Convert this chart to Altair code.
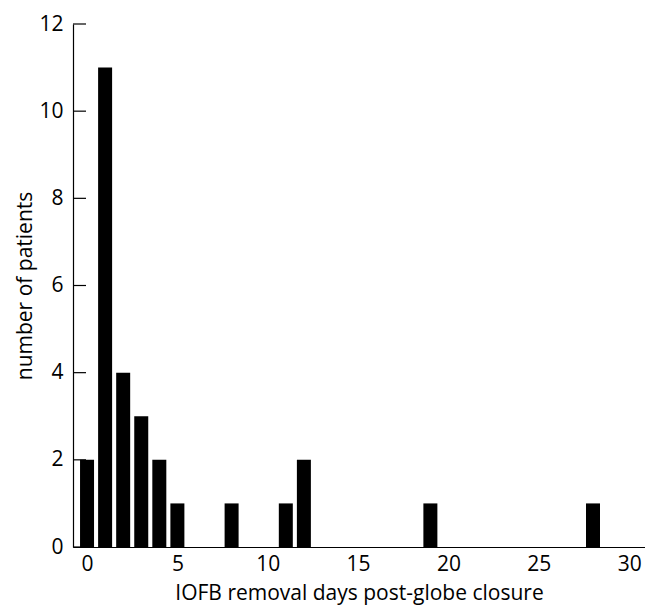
import altair as alt
import pandas as pd

days = [0, 1, 2, 3, 4, 5, 8, 11, 12, 19, 28]
patients = [2, 11, 4, 3, 2, 1, 1, 1, 2, 1, 1]
y_ticks = [0, 2, 4, 6, 8, 10, 12]
x_ticks = [0, 5, 10, 15, 20, 25, 30]

df = pd.DataFrame({"day": days, "n": patients})
ticks_df = pd.DataFrame({"t": y_ticks})

FONT = "Open Sans"

xscale = alt.Scale(domain=[-0.5, 30.6], nice=False, zero=False)
yscale = alt.Scale(domain=[0, 12], nice=False)

bars = alt.Chart(df).mark_bar(size=14, color="black").encode(
    x=alt.X("day:Q", scale=xscale,
            axis=alt.Axis(values=x_ticks, title="IOFB removal days post-globe closure",
                          ticks=False, grid=False, domainColor="black", domainWidth=1.2,
                          labelFontSize=21, labelPadding=6, labelColor="black",
                          titleFontSize=21, titleFontWeight="normal", titlePadding=8,
                          titleColor="black", labelFont=FONT, titleFont=FONT)),
    y=alt.Y("n:Q", scale=yscale,
            axis=alt.Axis(values=y_ticks, title="number of patients",
                          ticks=False, grid=False, domainColor="black", domainWidth=1.2,
                          labelFontSize=21, labelPadding=10, labelColor="black",
                          titleFontSize=21, titleFontWeight="normal", titlePadding=3,
                          titleColor="black", labelFont=FONT, titleFont=FONT)),
)

tick_rules = alt.Chart(ticks_df).mark_rule(color="black", strokeWidth=1.2).encode(
    x=alt.value(0), x2=alt.value(13),
    y=alt.Y("t:Q", scale=yscale),
)

chart = alt.layer(bars, tick_rules).properties(
    width=572, height=523,
    padding={"left": 65, "top": 16, "right": 0, "bottom": 58},
    autosize=alt.AutoSizeParams(type="none"),
).configure_view(stroke=None)

chart.save("out.html", embed_options={"renderer": "svg", "actions": False})
